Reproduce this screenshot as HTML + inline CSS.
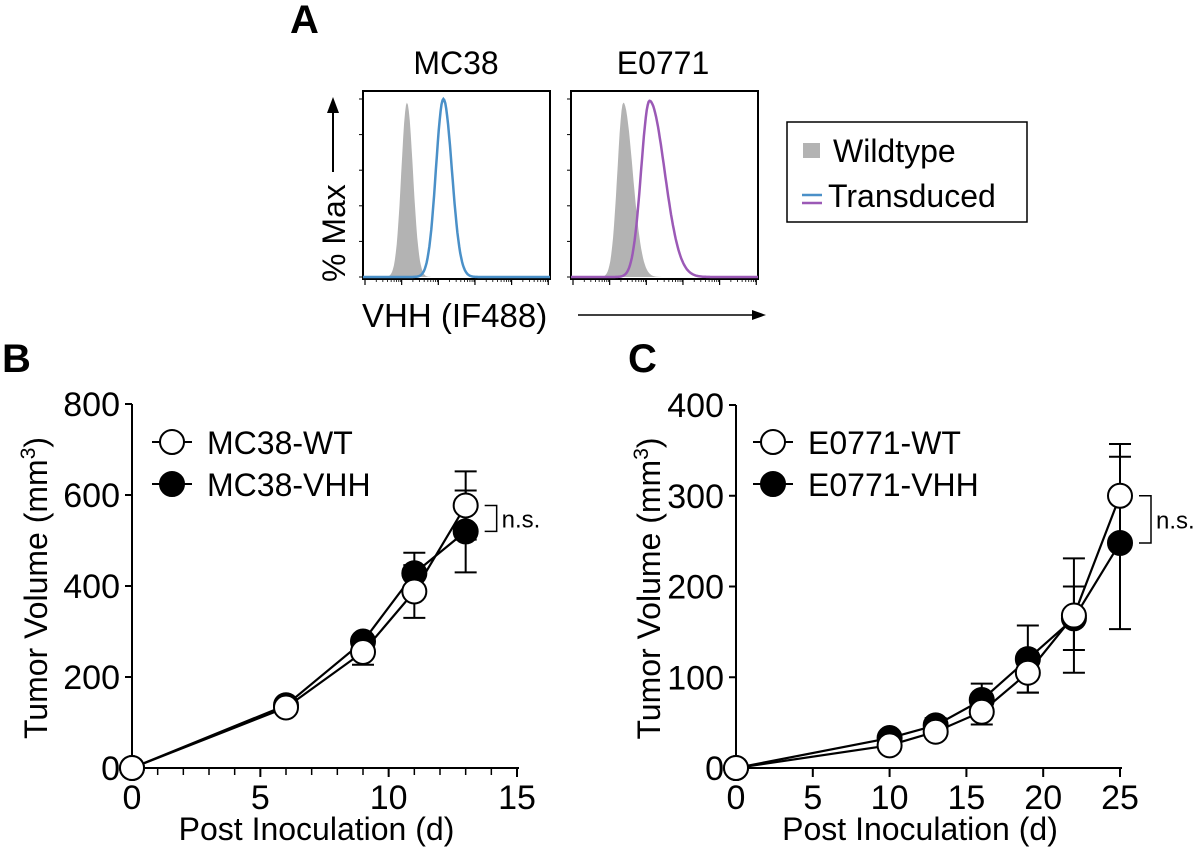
<!DOCTYPE html>
<html><head><meta charset="utf-8"><style>
html,body{margin:0;padding:0;background:#fff;}
svg{display:block;font-family:"Liberation Sans",Arial,sans-serif;}
</style></head><body>
<svg id="fig" width="1200" height="851" viewBox="0 0 1200 851" xmlns="http://www.w3.org/2000/svg">
<g id="panelA">
<text x="290" y="33" font-size="40" font-weight="bold">A</text>
<text x="456" y="74" font-size="32" text-anchor="middle">MC38</text>
<text x="663" y="74" font-size="32" text-anchor="middle">E0771</text>
<text transform="translate(345,282) rotate(-90)" font-size="32">% Max</text>
<g><line x1="333" y1="172" x2="333" y2="104" stroke="#000" stroke-width="2"/><polygon points="333,97 327,113 339,113" fill="#000"/></g>
<text x="362" y="327" font-size="33">VHH (IF488)</text>
<g><line x1="578" y1="315" x2="758" y2="315" stroke="#000" stroke-width="1.5"/><polygon points="766,315 752,310 752,320" fill="#000"/></g>
<g id="histMC"></g>
<g id="histE"></g>
<g>
<rect x="787" y="122" width="240" height="100" fill="none" stroke="#000" stroke-width="1.5"/>
<rect x="803" y="143" width="17" height="15" fill="#b3b3b3"/>
<text x="833" y="162" font-size="32">Wildtype</text>
<line x1="802" y1="195" x2="822" y2="195" stroke="#4a90c8" stroke-width="2.5"/>
<line x1="802" y1="203" x2="822" y2="203" stroke="#9b59b6" stroke-width="2.5"/>
<text x="828" y="207" font-size="32">Transduced</text>
</g>
</g>
<text x="2" y="372" font-size="40" font-weight="bold">B</text>
<text x="628" y="372" font-size="40" font-weight="bold">C</text>
<g id="chartB"></g>
<g id="chartC"></g>
</svg>
<script>
// Panel B data
const bDays = [0, 6, 9, 11, 13];
const bWT = [0, 133, 255, 388, 577];
const bWTerr = [0, 8, 28, 58, 75];
const bVHH = [0, 138, 278, 428, 520];
const bVHHerr = [0, 6, 10, 45, 90];
const bYTicks = [0, 200, 400, 600, 800];
const bXTicks = [0, 5, 10, 15];
// Panel C data
const cDays = [0, 10, 13, 16, 19, 22, 25];
const cWT = [0, 25, 40, 62, 105, 168, 300];
const cWTerr = [0, 4, 5, 14, 22, 63, 57];
const cVHH = [0, 33, 47, 75, 120, 165, 248];
const cVHHerr = [0, 4, 8, 18, 37, 35, 95];
const cYTicks = [0, 100, 200, 300, 400];
const cXTicks = [0, 5, 10, 15, 20, 25];
// Histogram parameters: [center (0-1 of width), sigmaLeft, sigmaRight, peak (0-1)]
const histMCwt = [0.235, 0.03, 0.032, 0.98];
const histMCtr = [0.43, 0.04, 0.045, 1.0];
const histEwt = [0.28, 0.032, 0.05, 0.98];
const histEtr = [0.42, 0.045, 0.08, 0.99];

const NS = "http://www.w3.org/2000/svg";
function mk(parent, tag, attrs){const e=document.createElementNS(NS,tag);for(const k in attrs)e.setAttribute(k,attrs[k]);parent.appendChild(e);return e;}

function histogram(g, x0, y0, w, h, wt, tr, color){
  const frame = mk(g,'rect',{x:x0,y:y0,width:w,height:h,fill:'none',stroke:'#000','stroke-width':2});
  
  
  const base = y0+h-2, top = y0+8;
  function curve(p){
    let pts=[];
    for(let i=0;i<=200;i++){const t=i/200;const s=t<p[0]?p[1]:p[2];const v=p[3]*Math.exp(-0.5*Math.pow((t-p[0])/s,2));pts.push([x0+t*w, base-v*(base-top)]);}
    return pts;
  }
  const a = curve(wt);
  const fill = mk(g,'path',{d:'M'+x0+','+base+' '+a.map(p=>'L'+p[0].toFixed(1)+','+p[1].toFixed(1)).join(' ')+' L'+(x0+w)+','+base+'Z',fill:'#b3b3b3'});
  
  
  const b = curve(tr);
  const line = mk(g,'path',{d:'M'+b.map(p=>p[0].toFixed(1)+','+p[1].toFixed(1)).join(' L'),fill:'none',stroke:color,'stroke-width':2.5});
  
  
  for(let i=0;i<6;i++){mk(g,'line',{x1:x0-4,x2:x0,y1:base-i*(base-top)/5,y2:base-i*(base-top)/5,stroke:'#000','stroke-width':1});}
  for(let i=0;i<=5;i++){const xx=x0+i*w/5*0.98+2;mk(g,'line',{x1:xx,x2:xx,y1:y0+h,y2:y0+h+6,stroke:'#000','stroke-width':1.2});
    for(let j=2;j<10;j++){const mx=xx+Math.log10(j)*w/5;if(mx<x0+w)mk(g,'line',{x1:mx,x2:mx,y1:y0+h,y2:y0+h+3,stroke:'#000','stroke-width':0.8});}}
}
histogram(document.getElementById('histMC'),363,91,187,188,histMCwt,histMCtr,'#4a90c8');
histogram(document.getElementById('histE'),571,91,187,188,histEwt,histEtr,'#9b59b6');

function lineChart(g, o){
  const X=v=>o.x0+(v-o.xmin)/(o.xmax-o.xmin)*(o.x1-o.x0);
  const Y=v=>o.y0-(v-o.ymin)/(o.ymax-o.ymin)*(o.y0-o.y1);
  const ax = mk(g,'path',{d:`M${o.x0},${o.y1} L${o.x0},${o.y0} L${o.x1+2},${o.y0}`,fill:'none',stroke:'#000','stroke-width':2});
  
  
  o.yTicks.forEach(v=>{mk(g,'line',{x1:o.x0-7,x2:o.x0,y1:Y(v),y2:Y(v),stroke:'#000','stroke-width':2});
    const t=mk(g,'text',{x:o.x0-12,y:Y(v)+12,'font-size':34,'text-anchor':'end'});t.textContent=v;
    
    });
  for(let v=o.xmin; v<=o.xmax; v+=o.minor){mk(g,'line',{x1:X(v),x2:X(v),y1:o.y0,y2:o.y0+7,stroke:'#000','stroke-width':1.5});}
  o.xTicks.forEach(v=>{mk(g,'line',{x1:X(v),x2:X(v),y1:o.y0,y2:o.y0+9,stroke:'#000','stroke-width':2});
    const t=mk(g,'text',{x:X(v),y:o.y0+41,'font-size':34,'text-anchor':'middle'});t.textContent=v;
    
    });
  const yt=mk(g,'text',{transform:`translate(${o.ytx},${(o.y0+o.y1)/2+2}) rotate(-90)`,'font-size':32,'text-anchor':'middle'});
  yt.innerHTML='Tumor Volume (mm<tspan dy="-12" font-size="21">3</tspan><tspan dy="12">)</tspan>';
  
  
  const xt=mk(g,'text',{x:(o.x0+o.x1)/2-8,y:o.y0+72,'font-size':32,'text-anchor':'middle'});xt.textContent='Post Inoculation (d)';
  
  
  const series=[[o.vhh,o.vhhErr,'#000','vhh'],[o.wt,o.wtErr,'#fff','wt']];
  series.forEach(s=>{
    const sg=mk(g,'g',{});
    
    
    o.days.forEach((d,i)=>{ if(s[1][i]>0){const up=Y(s[0][i]+s[1][i]), lo=Y(s[0][i]-s[1][i]);
      mk(sg,'line',{x1:X(d),x2:X(d),y1:up,y2:lo,stroke:'#000','stroke-width':2});
      mk(sg,'line',{x1:X(d)-11,x2:X(d)+11,y1:up,y2:up,stroke:'#000','stroke-width':2});
      mk(sg,'line',{x1:X(d)-11,x2:X(d)+11,y1:lo,y2:lo,stroke:'#000','stroke-width':2});}});
    mk(sg,'path',{d:'M'+o.days.map((d,i)=>X(d)+','+Y(s[0][i])).join(' L'),fill:'none',stroke:'#000','stroke-width':2.2});
    o.days.forEach((d,i)=>{const c=mk(sg,'circle',{cx:X(d),cy:Y(s[0][i]),r:12,fill:s[2],stroke:'#000','stroke-width':2});
      
      });
  });
  const lg=mk(g,'g',{});
  
  
  [[o.names[0],'#fff',o.ly],[o.names[1],'#000',o.ly+42]].forEach(e=>{
    mk(lg,'line',{x1:o.lx-20,x2:o.lx+20,y1:e[2],y2:e[2],stroke:'#000','stroke-width':2});
    mk(lg,'circle',{cx:o.lx,cy:e[2],r:12,fill:e[1],stroke:'#000','stroke-width':2});
    const t=mk(lg,'text',{x:o.lx+35,y:e[2]+12,'font-size':32});t.textContent=e[0];
    
    });
  const last=o.days.length-1, bx=X(o.days[last])+19;
  const ya=Y(o.wt[last]), yb=Y(o.vhh[last]);
  const br=mk(g,'path',{d:`M${bx},${ya} L${bx+12},${ya} L${bx+12},${yb} L${bx},${yb}`,fill:'none',stroke:'#000','stroke-width':1.5});
  
  
  const ns=mk(g,'text',{x:bx+17,y:(ya+yb)/2+9,'font-size':24});ns.textContent='n.s.';
  
  
}
lineChart(document.getElementById('chartB'),{x0:132,x1:517,y0:768,y1:404,xmin:0,xmax:15,ymin:0,ymax:800,minor:1,ytx:47,
  yTicks:bYTicks,xTicks:bXTicks,days:bDays,wt:bWT,wtErr:bWTerr,vhh:bVHH,vhhErr:bVHHerr,names:['MC38-WT','MC38-VHH'],lx:172,ly:442});
lineChart(document.getElementById('chartC'),{x0:736,x1:1120,y0:768,y1:405,xmin:0,xmax:25,ymin:0,ymax:400,minor:5,ytx:660,
  yTicks:cYTicks,xTicks:cXTicks,days:cDays,wt:cWT,wtErr:cWTerr,vhh:cVHH,vhhErr:cVHHerr,names:['E0771-WT','E0771-VHH'],lx:773,ly:442});
</script>
</body></html>
